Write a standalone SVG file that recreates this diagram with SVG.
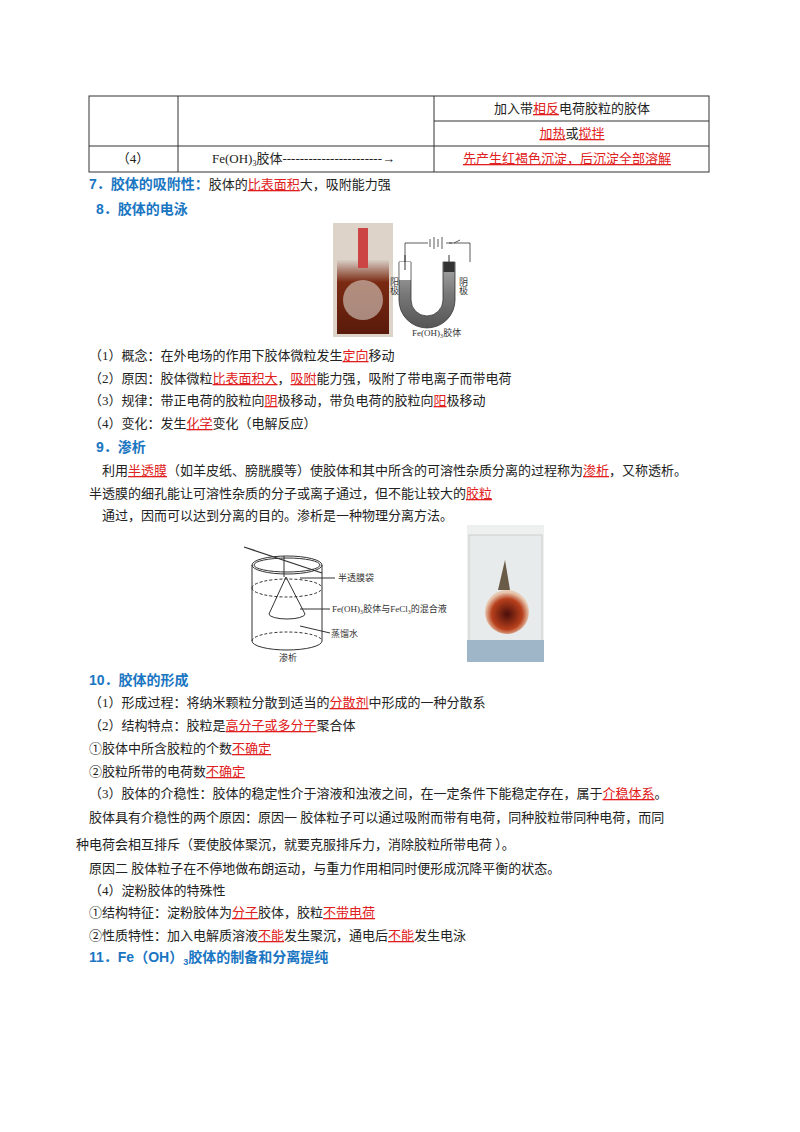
<svg xmlns="http://www.w3.org/2000/svg" width="800" height="1132" viewBox="0 0 800 1132">
<style>
text{font-family:"Liberation Serif","Noto Sans CJK SC",serif;font-size:13px;fill:#222}
.h{font-family:"Liberation Sans","Noto Sans CJK SC",sans-serif;font-weight:bold;fill:#1a76c2;font-size:14px}
.r{fill:#e02020;text-decoration:underline}
.s{font-size:9px;fill:#333}
.ln{stroke:#333;fill:none}
</style>
<defs>
<linearGradient id="br" x1="0" y1="0" x2="0" y2="1"><stop offset="0" stop-color="#d9cfc6"/><stop offset="0.3" stop-color="#7a2a12"/><stop offset="1" stop-color="#5a1a0a"/></linearGradient>
<linearGradient id="ug" x1="0" y1="0" x2="0" y2="1"><stop offset="0" stop-color="#aaa"/><stop offset="0.5" stop-color="#777"/><stop offset="1" stop-color="#555"/></linearGradient>
<radialGradient id="rg" cx="0.5" cy="0.55" r="0.5"><stop offset="0" stop-color="#4a0e0a"/><stop offset="0.7" stop-color="#b8401c"/><stop offset="1" stop-color="#e8c8b0"/></radialGradient>
</defs>
<g id="table" class="ln" stroke-width="1">
<rect x="89" y="96" width="620" height="76"/>
<line x1="178" y1="96" x2="178" y2="172"/>
<line x1="434" y1="96" x2="434" y2="172"/>
<line x1="434" y1="121" x2="709" y2="121"/>
<line x1="89" y1="146" x2="709" y2="146"/>
</g>
<text x="572" y="113" text-anchor="middle">加入带<tspan class="r">相反</tspan>电荷胶粒的胶体</text>
<text x="572" y="138" text-anchor="middle"><tspan class="r">加热</tspan>或<tspan class="r">搅拌</tspan></text>
<text x="133" y="163" text-anchor="middle">（4）</text>
<text x="212" y="163">Fe(OH)<tspan font-size="8" dy="3">3</tspan><tspan dy="-3">胶体-----------------------→</tspan></text>
<text x="567" y="163" text-anchor="middle" class="r">先产生红褐色沉淀，后沉淀全部溶解</text>
<text x="89" y="189"><tspan class="h">7．胶体的吸附性：</tspan>胶体的<tspan class="r">比表面积</tspan>大，吸附能力强</text>
<text x="96" y="214" class="h">8．胶体的电泳</text>
<g id="fig1">
<rect x="333" y="223" width="60" height="114" fill="#ddd3c8"/>
<rect x="337" y="260" width="52" height="74" fill="url(#br)"/>
<rect x="358" y="228" width="10" height="40" fill="#c44"/>
<circle cx="363" cy="300" r="20" fill="#d8d0c8" opacity="0.6"/>
<path d="M405 262 V243 H428 M430 239v8 M434 237v12 M438 239v8 M442 237v12 M446 243 H452 M454 243 l6 -3 M462 243 H449 M462 243 H470 V262" class="ln" stroke-width="0.8"/>
<path d="M399 262 V300 A28 28 0 0 0 455 300 V262 H443 V300 A16 16 0 0 1 411 300 V262 Z" fill="url(#ug)" stroke="#333" stroke-width="0.8"/>
<rect x="399.5" y="262" width="11" height="18" fill="#fff"/>
<rect x="443.5" y="262" width="11" height="10" fill="#333"/>
<line x1="405" y1="255" x2="405" y2="270" stroke="#333"/>
<line x1="449" y1="255" x2="449" y2="270" stroke="#333"/>
<text x="390" y="285" class="s" font-size="7">阳</text><text x="390" y="294" class="s" font-size="7">极</text>
<text x="459" y="285" class="s" font-size="7">阴</text><text x="459" y="294" class="s" font-size="7">极</text>
<text x="412" y="336" class="s" font-size="8">Fe(OH)₃胶体</text>
</g>
<text x="89" y="360">（1）概念：在外电场的作用下胶体微粒发生<tspan class="r">定向</tspan>移动</text>
<text x="89" y="383">（2）原因：胶体微粒<tspan class="r">比表面积大</tspan>，<tspan class="r">吸附</tspan>能力强，吸附了带电离子而带电荷</text>
<text x="89" y="405">（3）规律：带正电荷的胶粒向<tspan class="r">阴</tspan>极移动，带负电荷的胶粒向<tspan class="r">阳</tspan>极移动</text>
<text x="89" y="428">（4）变化：发生<tspan class="r">化学</tspan>变化（电解反应）</text>
<text x="96" y="452" class="h">9．渗析</text>
<text x="102" y="475">利用<tspan class="r">半透膜</tspan>（如羊皮纸、膀胱膜等）使胶体和其中所含的可溶性杂质分离的过程称为<tspan class="r">渗析</tspan>，又称透析。</text>
<text x="89" y="498">半透膜的细孔能让可溶性杂质的分子或离子通过，但不能让较大的<tspan class="r">胶粒</tspan></text>
<text x="102" y="520">通过，因而可以达到分离的目的。渗析是一种物理分离方法。</text>
<g id="fig2" class="ln" stroke-width="1">
<ellipse cx="287" cy="565" rx="35" ry="9"/>
<ellipse cx="287" cy="565" rx="33" ry="7"/>
<path d="M252 565 V641 M322 565 V641"/>
<path d="M252 641 A35 9 0 0 0 322 641"/>
<path d="M252 641 A35 9 0 0 1 322 641" stroke-dasharray="3 2"/>
<path d="M252 588 A35 9 0 0 0 322 588 M252 588 A35 9 0 0 1 322 588" stroke-dasharray="3 2"/>
<line x1="244" y1="547" x2="322" y2="573" stroke-width="1.3"/>
<path d="M284 556 V577"/>
<path d="M286 577 L269 614 A18 5 0 0 0 305 614 Z"/>
<line x1="300" y1="578" x2="335" y2="578"/>
<line x1="300" y1="609" x2="330" y2="609"/>
<line x1="300" y1="626" x2="330" y2="633"/>
</g>
<text x="338" y="581" class="s">半透膜袋</text>
<text x="332" y="612" class="s" font-size="8">Fe(OH)₃胶体与FeCl₃的混合液</text>
<text x="331" y="637" class="s">蒸馏水</text>
<text x="279" y="661" class="s">渗析</text>
<g id="photo">
<rect x="467" y="525" width="77" height="137" fill="#eef0f0"/>
<rect x="469" y="535" width="73" height="122" fill="#e8ebeb" stroke="#ccc"/>
<rect x="467" y="640" width="77" height="22" fill="#9fb5c8"/>
<path d="M505 560 L498 590 L510 590 Z" fill="#6a5a48"/>
<ellipse cx="507" cy="612" rx="22" ry="22" fill="url(#rg)"/>
</g>
<text x="89" y="685" class="h">10．胶体的形成</text>
<text x="89" y="707">（1）形成过程：将纳米颗粒分散到适当的<tspan class="r">分散剂</tspan>中形成的一种分散系</text>
<text x="89" y="730">（2）结构特点：胶粒是<tspan class="r">高分子或多分子</tspan>聚合体</text>
<text x="89" y="753">①胶体中所含胶粒的个数<tspan class="r">不确定</tspan></text>
<text x="89" y="776">②胶粒所带的电荷数<tspan class="r">不确定</tspan></text>
<text x="89" y="798">（3）胶体的介稳性：胶体的稳定性介于溶液和浊液之间，在一定条件下能稳定存在，属于<tspan class="r">介稳体系</tspan>。</text>
<text x="89" y="822">胶体具有介稳性的两个原因：原因一 胶体粒子可以通过吸附而带有电荷，同种胶粒带同种电荷，而同</text>
<text x="76" y="849">种电荷会相互排斥（要使胶体聚沉，就要克服排斥力，消除胶粒所带电荷 ）。</text>
<text x="89" y="873">原因二 胶体粒子在不停地做布朗运动，与重力作用相同时便形成沉降平衡的状态。</text>
<text x="89" y="895">（4）淀粉胶体的特殊性</text>
<text x="89" y="917">①结构特征：淀粉胶体为<tspan class="r">分子</tspan>胶体，胶粒<tspan class="r">不带电荷</tspan></text>
<text x="89" y="940">②性质特性：加入电解质溶液<tspan class="r">不能</tspan>发生聚沉，通电后<tspan class="r">不能</tspan>发生电泳</text>
<text x="89" y="962" class="h">11．Fe（OH）<tspan font-size="9" dy="3">3</tspan><tspan dy="-3">胶体的制备和分离提纯</tspan></text>
</svg>
